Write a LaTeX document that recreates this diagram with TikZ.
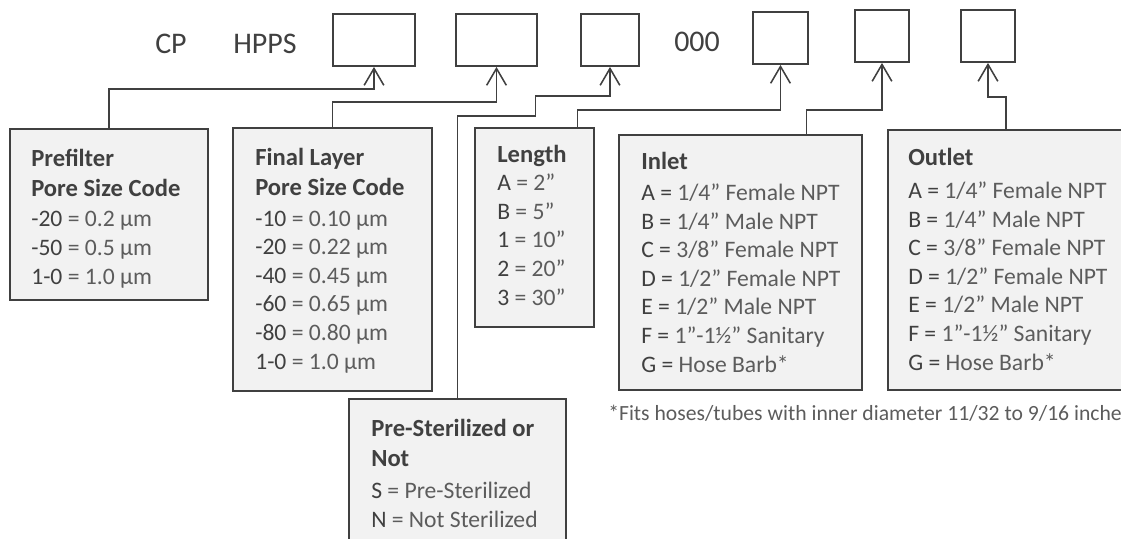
\documentclass[tikz,border=0pt]{standalone}
\usepackage{fontspec}
\setmainfont{Carlito}
\usetikzlibrary{fit,% boxes drawn round given corners
arrows.meta}
\definecolor{ink}{HTML}{404040}
\definecolor{soft}{HTML}{5C5C5C}
\definecolor{panelfill}{HTML}{F2F2F2}
\newcommand{\cd}[1]{{\color{ink}#1}}

\begin{document}
\begin{tikzpicture}[
  x=0.025cm, y=-0.025cm,
  every node/.style={inner sep=0pt, text=ink},
  codebox/.style={draw=ink, line width=1.3pt},
  panel/.style={draw=ink, line width=1.5pt, fill=panelfill},
  head/.style={anchor=base west, align=left,
    font=\bfseries\fontsize{17.5}{21.3}\selectfont},
  body/.style={anchor=base west, align=left, text=soft,
    font=\fontsize{16.8}{20.3}\selectfont},
  link/.style={draw=ink, line width=1.1pt, -{Straight Barb[length=12pt,width=14pt]}}
% the pictured area is 1121 x 539 units; text nodes sit on the baseline of their last line
]
\useasboundingbox (0,0) rectangle (1121,539);
\clip (0,0) rectangle (1121,539);

\path (155,54) node[anchor=base west, font=\fontsize{21.3}{24}\selectfont] (cp) {CP};
\path (233,54) node[anchor=base west, font=\fontsize{21.3}{24}\selectfont] (hpps) {HPPS};
\path (674,52) node[anchor=base west, font=\fontsize{21.3}{24}\selectfont] (zeros) {000};

\node[codebox, fit={(333,14) (415,66)}] (prebox) {};
\node[codebox, fit={(456,14) (537,66)}] (finalbox) {};
\node[codebox, fit={(581,14) (639,66)}] (sterbox) {};
\node[codebox, fit={(753,12) (808,64)}] (lenbox) {};
\node[codebox, fit={(855,10) (909,62)}] (inbox) {};
\node[codebox, fit={(961,10) (1015,62)}] (outbox) {};

\node[panel, fit={(10,129) (208,300)}] (prefilter) {};
\node[panel, fit={(233,128) (432,391)}] (finallayer) {};
\node[panel, fit={(475,128) (594,327)}] (length) {};
\node[panel, fit={(619,135) (862,390)}] (inlet) {};
\node[panel, fit={(888,130) (1124,390)}] (outlet) {};
\node[panel, fit={(349,399) (566,560)}] (sterile) {};

\path (31,196) node[head] (prefilterh) {Prefilter\\Pore Size Code};
\path (31,284) node[body] (prefilterb) {\cd{-20} = 0.2 µm\\\cd{-50} = 0.5 µm\\\cd{1-0} = 1.0 µm};

\path (255,195) node[head] (finalh) {Final Layer\\Pore Size Code};
\path (255,369) node[body] (finalb) {\cd{-10} = 0.10 µm\\\cd{-20} = 0.22 µm\\\cd{-40} = 0.45 µm\\
  \cd{-60} = 0.65 µm\\\cd{-80} = 0.80 µm\\\cd{1-0} = 1.0 µm};

\path (497,162) node[head] (lengthh) {Length};
\path (497,305) node[body] (lengthb) {\cd{A} = 2”\\\cd{B} = 5”\\\cd{1} = 10”\\\cd{2} = 20”\\\cd{3} = 30”};

\path (641,169) node[head] (inleth) {Inlet};
\path (641,372) node[body] (inletb) {\cd{A =} 1/4” Female NPT\\\cd{B =} 1/4” Male NPT\\
  \cd{C =} 3/8” Female NPT\\\cd{D =} 1/2” Female NPT\\\cd{E =} 1/2” Male NPT\\
  \cd{F =} 1”-1½” Sanitary\\\cd{G =} Hose Barb*};

\path (908,165) node[head] (outleth) {Outlet};
\path (908,370) node[body] (outletb) {\cd{A =} 1/4” Female NPT\\\cd{B =} 1/4” Male NPT\\
  \cd{C =} 3/8” Female NPT\\\cd{D =} 1/2” Female NPT\\\cd{E =} 1/2” Male NPT\\
  \cd{F =} 1”-1½” Sanitary\\\cd{G =} Hose Barb*};

\path (371,466) node[head] (sterileh) {Pre-Sterilized or\\Not};
\path (371,527) node[body] (sterileb) {\cd{S} = Pre-Sterilized\\\cd{N} = Not Sterilized};

\path (608,420) node[anchor=base west, text=soft, font=\fontsize{15.4}{17}\selectfont] (note)
  {*Fits hoses/tubes with inner diameter 11/32 to 9/16 inche};

\draw[link] (prefilter.north) -- ++(0,-39) -| (prebox.south);
\draw[link] (finallayer.north) -- ++(0,-25) -| (finalbox.south);
\draw[link] (sterile.north) -- ++(0,-282) -- ++(78,0) -- ++(0,-20) -| (sterbox.south);
\path (length.north) ++(43,0) coordinate (lenfoot);
\draw[link] (lenfoot) -- ++(0,-17) -| (lenbox.south);
\path (inlet.north) ++(66,0) coordinate (infoot);
\draw[link] (infoot) -- ++(0,-24) -| (inbox.south);
\draw[link] (outlet.north) -- ++(0,-32) -| (outbox.south);
\end{tikzpicture}
\end{document}
